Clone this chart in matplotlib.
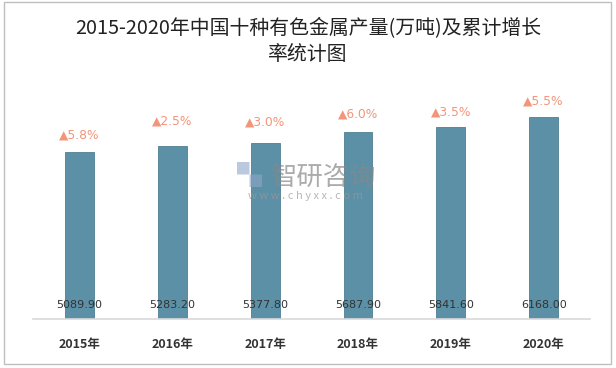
import matplotlib.pyplot as plt
from matplotlib.patches import Rectangle

plt.rcParams['font.family'] = ['Noto Sans CJK SC', 'DejaVu Sans']

years = ['2015年', '2016年', '2017年', '2018年', '2019年', '2020年']
output = [5089.90, 5283.20, 5377.80, 5687.90, 5841.60, 6168.00]
growth = ['5.8%', '2.5%', '3.0%', '6.0%', '3.5%', '5.5%']

# gap between bar top and growth label (points)
label_gap = [12.5, 17.5, 15.0, 13.5, 11.0, 11.0]

bar_color = '#5B90A6'
growth_color = '#F2957A'

fig = plt.figure(figsize=(6.16, 3.68), dpi=100)
ax = fig.add_axes([0.0536, 0.1332, 0.9044, 0.624])

x = range(len(years))
ax.bar(x, output, width=0.31, color=bar_color, edgecolor='#4F7F95', linewidth=0.6, zorder=2)

for i, v in enumerate(output):
    ax.text(i, 420, f'{v:.2f}', ha='center', va='center', fontsize=8,
            color='#333333', family=['DejaVu Sans'], zorder=4)
    ax.annotate('▲' + growth[i], (i, v), xytext=(0, label_gap[i]), textcoords='offset points',
                ha='center', va='center', fontsize=8.8, color=growth_color,
                family=['DejaVu Sans'])

ax.set_xlim(-0.5, len(years) - 0.5)
ax.set_ylim(0, 7000)
ax.set_xticks(list(x))
ax.set_xticklabels(years, fontsize=9, fontweight='bold', color='#333333')
ax.tick_params(axis='x', length=0, pad=14)
ax.set_yticks([])
for s in ['top', 'right', 'left']:
    ax.spines[s].set_visible(False)
ax.spines['bottom'].set_color('#D9D9D9')
ax.spines['bottom'].set_linewidth(1.2)

# title
fig.text(0.5, 0.922, '2015-2020年中国十种有色金属产量(万吨)及累计增长',
         ha='center', va='center', fontsize=14.3, color='#222222')
fig.text(0.5, 0.852, '率统计图', ha='center', va='center', fontsize=14.3, color='#222222')

# watermark
fig.text(0.405, 0.519, '▚', ha='center', va='center', fontsize=18, color='#8FA6C8', alpha=0.6)
fig.text(0.525, 0.519, '智研咨询', ha='center', va='center', fontsize=19,
         color='#888888', alpha=0.7)
fig.text(0.496, 0.468, 'w w w . c h y x x . c o m', ha='center', va='center',
         fontsize=8, color='#999999', alpha=0.7)

# outer border
fig.patches.append(Rectangle((4 / 616, 4 / 368), 607 / 616, 362 / 368,
                             transform=fig.transFigure, fill=False,
                             edgecolor='#BFBFBF', linewidth=1))

fig.savefig('out.png', dpi=100)
